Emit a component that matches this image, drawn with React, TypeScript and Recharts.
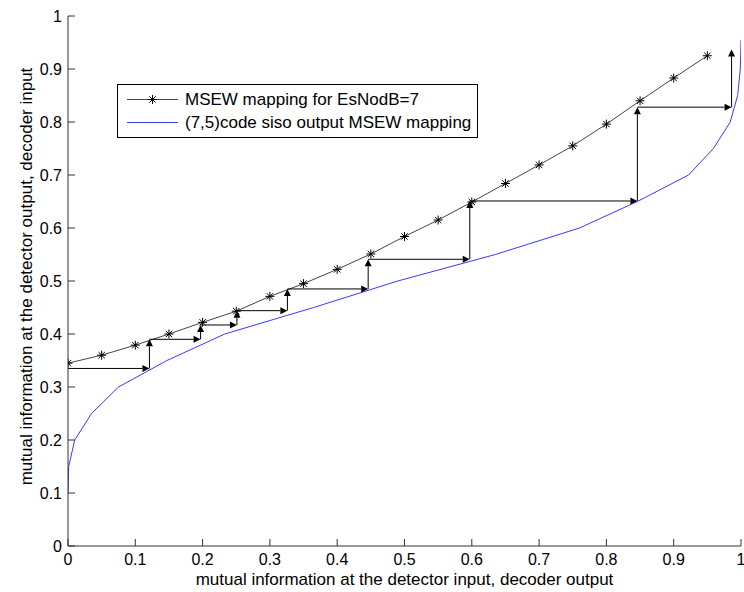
import { LineChart, Line, XAxis, YAxis, ReferenceLine, Legend } from 'recharts';

const FONT = '"Liberation Sans", Arial, Helvetica, sans-serif';
const FRAME = '#333';
const MSEW_COLOR = '#444';
const SISO_COLOR = '#3a3aff';

// MSEW mapping for EsNodB=7 (star markers)
const MSEW_X = [0, 0.05, 0.1, 0.15, 0.2, 0.25, 0.3, 0.35, 0.4, 0.45, 0.5, 0.55, 0.6, 0.65, 0.7, 0.75, 0.8, 0.85, 0.9, 0.95];
const MSEW_Y = [0.345, 0.36, 0.379, 0.4, 0.422, 0.443, 0.471, 0.495, 0.522, 0.551, 0.584, 0.615, 0.649, 0.684, 0.719, 0.755, 0.796, 0.84, 0.883, 0.925];

// (7,5) code siso output
const SISO_X = [0, 0.001, 0.01, 0.035, 0.075, 0.147, 0.233, 0.365, 0.49, 0.635, 0.76, 0.846, 0.922, 0.959, 0.984, 0.995, 0.999, 1.0];
const SISO_Y = [0.1, 0.15, 0.2, 0.25, 0.3, 0.35, 0.4, 0.45, 0.5, 0.55, 0.6, 0.65, 0.7, 0.75, 0.8, 0.85, 0.9, 0.955];

// staircase (decoding trajectory) vertices
const STAIR_X = [0, 0.121, 0.121, 0.197, 0.197, 0.251, 0.251, 0.326, 0.326, 0.446, 0.446, 0.597, 0.597, 0.846, 0.846, 0.986, 0.986];
const STAIR_Y = [0.335, 0.335, 0.39, 0.39, 0.417, 0.417, 0.444, 0.444, 0.485, 0.485, 0.541, 0.541, 0.651, 0.651, 0.828, 0.828, 0.937];

const TICKS = [0, 0.1, 0.2, 0.3, 0.4, 0.5, 0.6, 0.7, 0.8, 0.9, 1];

const msewData = MSEW_X.map((x, i) => ({ x, y: MSEW_Y[i] }));
const sisoData = SISO_X.map((x, i) => ({ x, y: SISO_Y[i] }));
const stairSegments = STAIR_X.slice(1).map((x, i) => [
  { x: STAIR_X[i], y: STAIR_Y[i] },
  { x, y: STAIR_Y[i + 1] },
]);

const TICK_LEN = 7;

function starPath(cx: number, cy: number) {
  const r = 4.5;
  const d = 3.2;
  return `M${cx - r},${cy}H${cx + r}M${cx},${cy - r}V${cy + r}M${cx - d},${cy - d}L${cx + d},${cy + d}M${cx - d},${cy + d}L${cx + d},${cy - d}`;
}

function StarDot(props: any) {
  const { cx, cy, index } = props;
  if (cx == null || cy == null) return null;
  return <path key={`star-${index}`} d={starPath(cx, cy)} stroke="#000" strokeWidth={1} fill="none" />;
}

function Arrow(props: any) {
  const { x1, y1, x2, y2 } = props;
  const dx = x2 - x1;
  const dy = y2 - y1;
  const len = Math.hypot(dx, dy) || 1;
  const ux = dx / len;
  const uy = dy / len;
  const L = 7;
  const W = 3.5;
  const bx = x2 - ux * L;
  const by = y2 - uy * L;
  const pts = `${x2},${y2} ${bx - uy * W},${by + ux * W} ${bx + uy * W},${by - ux * W}`;
  return (
    <g>
      <line x1={x1} y1={y1} x2={bx} y2={by} stroke="#000" strokeWidth={1} />
      <polygon points={pts} fill="#000" />
    </g>
  );
}

function BottomTick({ x, y, payload }: any) {
  return (
    <g>
      <line x1={x} y1={y - 8} x2={x} y2={y - 8 - TICK_LEN} stroke={FRAME} />
      <text x={x} y={y} dy="0.71em" textAnchor="middle" fill="#000" fontSize={16} fontFamily={FONT}>
        {String(payload.value)}
      </text>
    </g>
  );
}

function LeftTick({ x, y, payload }: any) {
  return (
    <g>
      <line x1={x + 6} y1={y} x2={x + 6 + TICK_LEN} y2={y} stroke={FRAME} />
      <text x={x} y={y} dy="0.355em" textAnchor="end" fill="#000" fontSize={16} fontFamily={FONT}>
        {String(payload.value)}
      </text>
    </g>
  );
}

function TopTick({ x, y }: any) {
  return <line x1={x} y1={y} x2={x} y2={y + TICK_LEN} stroke={FRAME} />;
}

function RightTick({ x, y }: any) {
  return <line x1={x} y1={y} x2={x - TICK_LEN} y2={y} stroke={FRAME} />;
}

function YLabel(props: any) {
  const vb = props.viewBox || { x: 0, y: 16, width: 68, height: 530 };
  const cx = vb.x + 31.5;
  const cy = vb.y + vb.height / 2 - 4.5;
  return (
    <text x={cx} y={cy} transform={`rotate(-90, ${cx}, ${cy})`} textAnchor="middle" fill="#000" fontSize={17} fontFamily={FONT}>
      mutual information at the detector output, decoder input
    </text>
  );
}

function LegendBox() {
  const row = { display: 'flex', alignItems: 'center', height: 23, whiteSpace: 'nowrap' as const };
  return (
    <div style={{ border: '1px solid #000', background: '#fff', padding: '3px 0 3px 9px', boxSizing: 'border-box', width: 361, fontFamily: FONT, fontSize: 17, color: '#000', lineHeight: '23px' }}>
      <div style={row}>
        <svg width={51} height={23} style={{ display: 'block' }}>
          <line x1={0} y1={11.5} x2={51} y2={11.5} stroke={MSEW_COLOR} />
          <path d={starPath(25.5, 11.5)} stroke="#000" fill="none" />
        </svg>
        <span style={{ marginLeft: 7 }}>MSEW mapping for EsNodB=7</span>
      </div>
      <div style={row}>
        <svg width={51} height={23} style={{ display: 'block' }}>
          <line x1={0} y1={11.5} x2={51} y2={11.5} stroke={SISO_COLOR} />
        </svg>
        <span style={{ marginLeft: 7 }}>(7,5)code siso output MSEW mapping</span>
      </div>
    </div>
  );
}

export default function App() {
  return (
    <div style={{ position: 'absolute', left: 0, top: 0, width: 744, height: 592, background: '#fff' }}>
      <LineChart width={744} height={592} margin={{ top: 16, right: 3, bottom: 0, left: 0 }}>
        <XAxis
          dataKey="x"
          type="number"
          domain={[0, 1]}
          ticks={TICKS}
          allowDataOverflow
          height={46}
          tickSize={0}
          tickMargin={8}
          tickLine={false}
          axisLine={{ stroke: FRAME }}
          tick={BottomTick}
          interval={0}
          label={{ value: 'mutual information at the detector input, decoder output', position: 'insideBottom', offset: 7, fill: '#000', fontSize: 17, fontFamily: FONT }}
        />
        <XAxis
          xAxisId="top"
          orientation="top"
          type="number"
          domain={[0, 1]}
          ticks={TICKS}
          allowDataOverflow
          height={0}
          tickSize={0}
          tickMargin={0}
          tickLine={false}
          axisLine={{ stroke: FRAME }}
          tick={TopTick}
          interval={0}
        />
        <YAxis
          type="number"
          domain={[0, 1]}
          ticks={TICKS}
          allowDataOverflow
          width={68}
          tickSize={0}
          tickMargin={6}
          tickLine={false}
          axisLine={{ stroke: FRAME }}
          tick={LeftTick}
          interval={0}
          label={{ content: YLabel }}
        />
        <YAxis
          yAxisId="right"
          orientation="right"
          type="number"
          domain={[0, 1]}
          ticks={TICKS}
          allowDataOverflow
          width={0}
          tickSize={0}
          tickMargin={0}
          tickLine={false}
          axisLine={{ stroke: FRAME }}
          tick={RightTick}
          interval={0}
        />
        <Legend
          verticalAlign="middle"
          align="center"
          layout="horizontal"
          content={LegendBox}
          wrapperStyle={{ left: 117, top: 84, width: 361 }}
        />
        <Line
          data={sisoData}
          dataKey="y"
          type="linear"
          stroke={SISO_COLOR}
          strokeWidth={1}
          dot={false}
          activeDot={false}
          isAnimationActive={false}
        />
        <Line
          data={msewData}
          dataKey="y"
          type="linear"
          stroke={MSEW_COLOR}
          strokeWidth={1}
          dot={StarDot}
          activeDot={false}
          isAnimationActive={false}
        />
        {stairSegments.map((seg, i) => (
          <ReferenceLine key={`step-${i}`} segment={seg} ifOverflow="visible" shape={Arrow} />
        ))}
      </LineChart>
    </div>
  );
}
